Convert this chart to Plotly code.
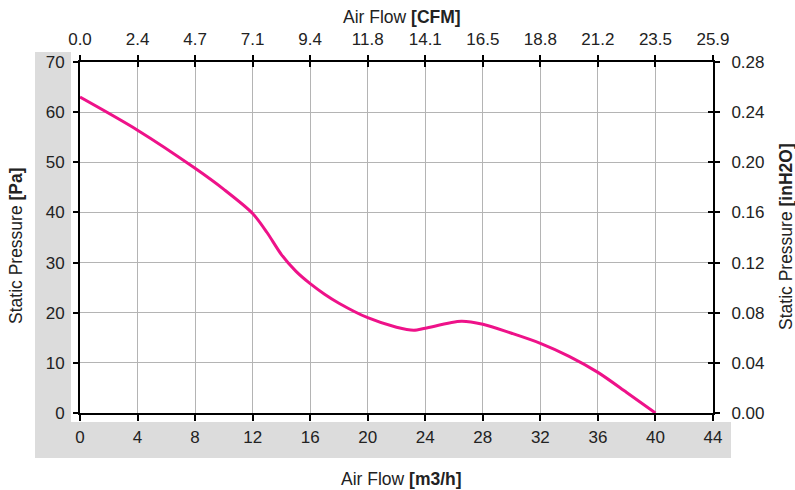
import plotly.graph_objects as go

# Data
airflow_m3h = [0, 4, 8, 10, 12, 13, 14, 15, 16, 17, 18, 20, 22, 23.2, 24, 26.5, 28, 30, 32, 34, 36, 38, 40]
pressure_pa = [63, 56.4, 48.8, 44.6, 39.8, 36.0, 31.6, 28.3, 25.8, 23.7, 21.9, 19.0, 17.1, 16.5, 16.9, 18.3, 17.7, 15.9, 13.9, 11.3, 8.1, 4.1, 0]

bottom_ticks = [0, 4, 8, 12, 16, 20, 24, 28, 32, 36, 40, 44]
cfm_labels = ["0.0", "2.4", "4.7", "7.1", "9.4", "11.8", "14.1", "16.5", "18.8", "21.2", "23.5", "25.9"]
pa_ticks = [0, 10, 20, 30, 40, 50, 60, 70]
inh2o_ticks = [0.00, 0.04, 0.08, 0.12, 0.16, 0.20, 0.24, 0.28]

W, H = 795, 490
L, R, T, B = 80, 713, 62, 413
pw, ph = R - L, B - T

def px(x):
    return (x - L) / pw

def py(y):
    return (B - y) / ph

FONT = "Liberation Sans, Arial, Helvetica, sans-serif"
TXT = "#222222"
GRID = "#b4b4b4"
BAND = "#dcdcdc"

fig = go.Figure()
fig.add_trace(go.Scatter(
    x=airflow_m3h, y=pressure_pa, mode="lines",
    line=dict(color="#ee1289", width=3, shape="spline", smoothing=0.8),
    hoverinfo="skip", showlegend=False,
))
fig.add_trace(go.Scatter(x=[0], y=[0], xaxis="x2", yaxis="y2", mode="markers",
                         marker=dict(opacity=0), showlegend=False, hoverinfo="skip"))
fig.add_trace(go.Scatter(x=[0], y=[0], xaxis="x3", yaxis="y3", mode="markers",
                         marker=dict(opacity=0), showlegend=False, hoverinfo="skip"))

tickfont = dict(family=FONT, size=17, color=TXT)

fig.update_layout(
    width=W, height=H,
    margin=dict(l=L, r=W - R, t=T, b=H - B),
    paper_bgcolor="white", plot_bgcolor="white",
    font=dict(family=FONT, size=17, color=TXT),
    xaxis=dict(range=[0, 44], tickvals=bottom_ticks, ticktext=[str(v) for v in bottom_ticks],
               showgrid=True, gridcolor=GRID, gridwidth=1, zeroline=False,
               showline=True, linecolor="black", linewidth=2,
               ticks="outside", ticklen=6, tickwidth=2, tickcolor="black",
               tickfont=tickfont, ticklabelstandoff=2),
    xaxis2=dict(range=[0, 44], overlaying="x", side="top", tickvals=bottom_ticks, ticktext=cfm_labels,
                showgrid=False, zeroline=False, showline=True, linecolor="black", linewidth=2,
                ticks="outside", ticklen=5, tickwidth=2, tickcolor="black",
                tickfont=tickfont, ticklabelstandoff=3),
    xaxis3=dict(range=[0, 44], overlaying="x", side="top", tickvals=bottom_ticks,
                showticklabels=False, showgrid=False, zeroline=False, showline=False,
                ticks="inside", ticklen=5, tickwidth=2, tickcolor="black"),
    yaxis=dict(range=[0, 70], tickvals=pa_ticks, ticktext=[str(v) for v in pa_ticks],
               showgrid=True, gridcolor=GRID, gridwidth=1, zeroline=False,
               showline=True, linecolor="black", linewidth=2,
               ticks="outside", ticklen=5, tickwidth=2, tickcolor="black",
               tickfont=tickfont, ticklabelstandoff=5),
    yaxis2=dict(range=[0, 0.28], overlaying="y", side="right", tickvals=inh2o_ticks,
                ticktext=[f"{v:.2f}" for v in inh2o_ticks],
                showgrid=False, zeroline=False, showline=True, linecolor="black", linewidth=2,
                ticks="outside", ticklen=5, tickwidth=2, tickcolor="black",
                tickfont=tickfont, ticklabelstandoff=8),
    yaxis3=dict(range=[0, 0.28], overlaying="y", side="right", tickvals=inh2o_ticks,
                showticklabels=False, showgrid=False, zeroline=False, showline=False,
                ticks="inside", ticklen=5, tickwidth=2, tickcolor="black"),
)

# grey L-shaped bands
fig.add_shape(type="rect", xref="paper", yref="paper", layer="below",
              x0=px(35), x1=px(71), y0=py(458), y1=py(52), fillcolor=BAND, line_width=0)
fig.add_shape(type="rect", xref="paper", yref="paper", layer="below",
              x0=px(35), x1=px(731), y0=py(458), y1=py(422), fillcolor=BAND, line_width=0)

ann = dict(xref="paper", yref="paper", showarrow=False, font=dict(family=FONT, size=17.5, color=TXT))
fig.add_annotation(text="Air Flow <b>[CFM]</b>", x=px(402), y=py(17), xanchor="center", yanchor="middle", **ann)
fig.add_annotation(text="Air Flow <b>[m3/h]</b>", x=px(401), y=py(479), xanchor="center", yanchor="middle", **ann)
fig.add_annotation(text="Static Pressure <b>[Pa]</b>", x=px(16), y=py(246), textangle=-90,
                   xanchor="center", yanchor="middle", **ann)
fig.add_annotation(text="Static Pressure <b>[inH2O]</b>", x=px(786), y=py(236), textangle=-90,
                   xanchor="center", yanchor="middle", **ann)

fig.write_html("out.html", config={"displayModeBar": False, "staticPlot": True},
               post_script="document.body.style.margin='0';document.body.style.overflow='hidden';")
